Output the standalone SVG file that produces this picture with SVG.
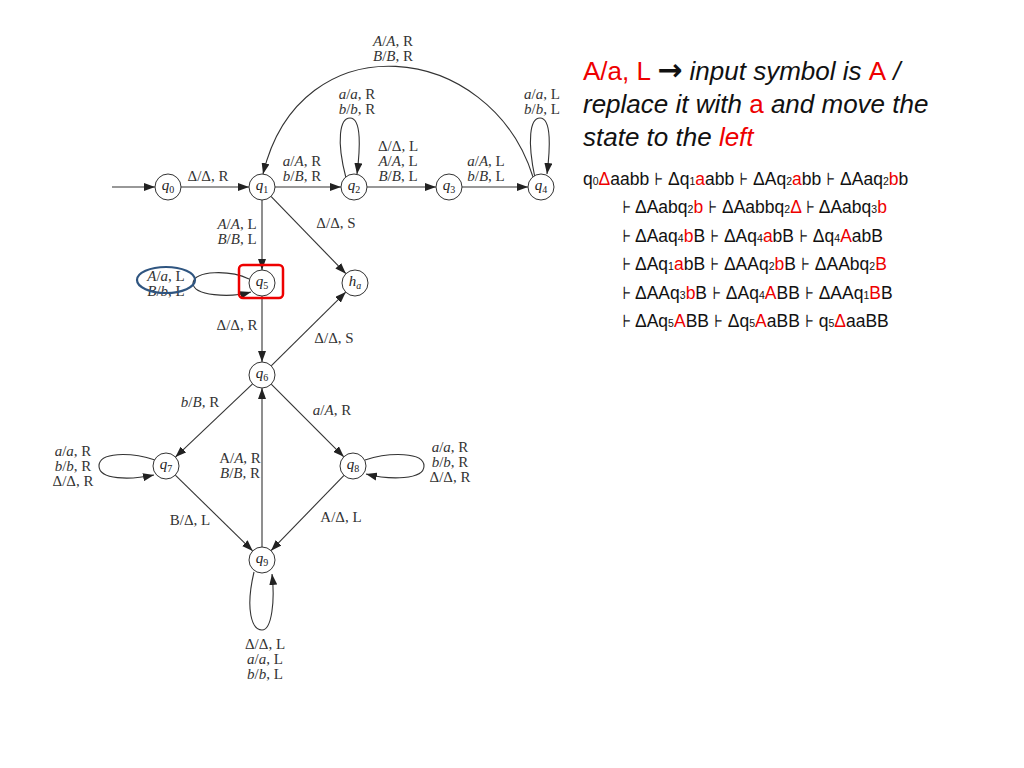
<svg xmlns="http://www.w3.org/2000/svg" width="1024" height="768" viewBox="0 0 1024 768">
<style>
.n circle{fill:#fff;stroke:#333;stroke-width:1}
.nl{font-family:"Liberation Serif",serif;font-size:15px;font-style:italic;fill:#222;text-anchor:middle}
.sb{font-size:10px;font-style:normal}
.e{fill:none;stroke:#333;stroke-width:1.1}
.lb{font-family:"Liberation Serif",serif;font-size:15px;fill:#333;text-anchor:middle}
.i{font-style:italic}
.t{font-family:"Liberation Sans","DejaVu Sans",sans-serif;font-size:26px;fill:#111}
.d{font-family:"Liberation Sans","DejaVu Sans",sans-serif;font-size:17.5px;fill:#111}
.r{fill:#e00}
.s{font-size:10.5px}
</style>
<defs>
<marker id="ah" markerWidth="11" markerHeight="8" refX="11" refY="4" orient="auto" markerUnits="userSpaceOnUse">
<path d="M0,0 L11,4 L0,8 z" fill="#222"/>
</marker>
</defs>
<rect width="1024" height="768" fill="#fff"/>

<g id="connectors">
<line class="e" x1="112" y1="187" x2="155" y2="187" marker-end="url(#ah)"/>
<line class="e" x1="181" y1="187" x2="249" y2="187" marker-end="url(#ah)"/>
<line class="e" x1="275" y1="187" x2="341" y2="187" marker-end="url(#ah)"/>
<line class="e" x1="367" y1="187" x2="436" y2="187" marker-end="url(#ah)"/>
<line class="e" x1="462" y1="187" x2="528" y2="187" marker-end="url(#ah)"/>
<path class="e" d="M533,177 C490,40 300,20 263,174" marker-end="url(#ah)"/>
<path class="e" d="M346,178 C336,140 340,118 350,118 C362,118 360,150 357,174" marker-end="url(#ah)"/>
<path class="e" d="M535,178 C527,140 530,118 540,118 C552,118 550,150 547,174" marker-end="url(#ah)"/>
<line class="e" x1="262" y1="200" x2="262" y2="270" marker-end="url(#ah)"/>
<line class="e" x1="271" y1="196.3" x2="345.9" y2="273.7" marker-end="url(#ah)"/>
<path class="e" d="M249,279 C230,270 195,270 193,283 C193,296 230,298 251,292" marker-end="url(#ah)"/>
<line class="e" x1="262" y1="296" x2="262" y2="362" marker-end="url(#ah)"/>
<line class="e" x1="271.2" y1="365.9" x2="345.8" y2="292.1" marker-end="url(#ah)"/>
<line class="e" x1="252.6" y1="383.9" x2="175.4" y2="457.1" marker-end="url(#ah)"/>
<line class="e" x1="271.2" y1="384.2" x2="343.8" y2="456.8" marker-end="url(#ah)"/>
<path class="e" d="M155,460 C130,452 99,452 99,466 C99,480 130,480 154,475" marker-end="url(#ah)"/>
<path class="e" d="M365,460 C390,452 424,452 424,466 C424,480 390,480 366,474" marker-end="url(#ah)"/>
<line class="e" x1="175.3" y1="475.1" x2="252.7" y2="550.9" marker-end="url(#ah)"/>
<line class="e" x1="344" y1="475.3" x2="271" y2="550.7" marker-end="url(#ah)"/>
<line class="e" x1="262" y1="547" x2="262" y2="388" marker-end="url(#ah)"/>
<path class="e" d="M254,572 C245,610 252,630 262,630 C272,630 275,600 272,574" marker-end="url(#ah)"/>
</g>

<g id="edge-labels">
<text class="lb" x="393" y="46"><tspan class="i">A</tspan>/<tspan class="i">A</tspan>, R</text>
<text class="lb" x="393" y="61"><tspan class="i">B</tspan>/<tspan class="i">B</tspan>, R</text>
<text class="lb" x="357" y="99"><tspan class="i">a</tspan>/<tspan class="i">a</tspan>, R</text>
<text class="lb" x="357" y="114"><tspan class="i">b</tspan>/<tspan class="i">b</tspan>, R</text>
<text class="lb" x="542" y="99"><tspan class="i">a</tspan>/<tspan class="i">a</tspan>, L</text>
<text class="lb" x="542" y="114"><tspan class="i">b</tspan>/<tspan class="i">b</tspan>, L</text>
<text class="lb" x="398" y="151">Δ/Δ, L</text>
<text class="lb" x="398" y="166"><tspan class="i">A</tspan>/<tspan class="i">A</tspan>, L</text>
<text class="lb" x="398" y="181"><tspan class="i">B</tspan>/<tspan class="i">B</tspan>, L</text>
<text class="lb" x="302" y="166"><tspan class="i">a</tspan>/<tspan class="i">A</tspan>, R</text>
<text class="lb" x="302" y="181"><tspan class="i">b</tspan>/<tspan class="i">B</tspan>, R</text>
<text class="lb" x="486" y="166"><tspan class="i">a</tspan>/<tspan class="i">A</tspan>, L</text>
<text class="lb" x="486" y="181"><tspan class="i">b</tspan>/<tspan class="i">B</tspan>, L</text>
<text class="lb" x="208" y="181">Δ/Δ, R</text>
<text class="lb" x="237" y="229"><tspan class="i">A</tspan>/<tspan class="i">A</tspan>, L</text>
<text class="lb" x="237" y="244"><tspan class="i">B</tspan>/<tspan class="i">B</tspan>, L</text>
<text class="lb" x="336" y="228">Δ/Δ, S</text>
<text class="lb" x="166" y="281"><tspan class="i">A</tspan>/<tspan class="i">a</tspan>, L</text>
<text class="lb" x="166" y="296"><tspan class="i">B</tspan>/<tspan class="i">b</tspan>, L</text>
<text class="lb" x="237" y="330">Δ/Δ, R</text>
<text class="lb" x="334" y="343">Δ/Δ, S</text>
<text class="lb" x="200" y="407"><tspan class="i">b</tspan>/<tspan class="i">B</tspan>, R</text>
<text class="lb" x="332" y="415"><tspan class="i">a</tspan>/<tspan class="i">A</tspan>, R</text>
<text class="lb" x="73" y="456"><tspan class="i">a</tspan>/<tspan class="i">a</tspan>, R</text>
<text class="lb" x="73" y="471"><tspan class="i">b</tspan>/<tspan class="i">b</tspan>, R</text>
<text class="lb" x="73" y="486">Δ/Δ, R</text>
<text class="lb" x="450" y="452"><tspan class="i">a</tspan>/<tspan class="i">a</tspan>, R</text>
<text class="lb" x="450" y="467"><tspan class="i">b</tspan>/<tspan class="i">b</tspan>, R</text>
<text class="lb" x="450" y="482">Δ/Δ, R</text>
<text class="lb" x="240" y="463">A/<tspan class="i">A</tspan>, R</text>
<text class="lb" x="240" y="478"><tspan class="i">B</tspan>/<tspan class="i">B</tspan>, R</text>
<text class="lb" x="190" y="525">B/Δ, L</text>
<text class="lb" x="341" y="522">A/Δ, L</text>
<text class="lb" x="265" y="649">Δ/Δ, L</text>
<text class="lb" x="265" y="664"><tspan class="i">a</tspan>/<tspan class="i">a</tspan>, L</text>
<text class="lb" x="265" y="679"><tspan class="i">b</tspan>/<tspan class="i">b</tspan>, L</text>
</g>

<g id="q0" class="n"><circle cx="168" cy="187" r="13"/><text class="nl" x="168" y="190">q<tspan class="sb" dy="3">0</tspan></text></g>
<g id="q1" class="n"><circle cx="262" cy="187" r="13"/><text class="nl" x="262" y="190">q<tspan class="sb" dy="3">1</tspan></text></g>
<g id="q2" class="n"><circle cx="354" cy="187" r="13"/><text class="nl" x="354" y="190">q<tspan class="sb" dy="3">2</tspan></text></g>
<g id="q3" class="n"><circle cx="449" cy="187" r="13"/><text class="nl" x="449" y="190">q<tspan class="sb" dy="3">3</tspan></text></g>
<g id="q4" class="n"><circle cx="541" cy="187" r="13"/><text class="nl" x="541" y="190">q<tspan class="sb" dy="3">4</tspan></text></g>
<g id="q5" class="n"><circle cx="262" cy="283" r="13"/><text class="nl" x="262" y="286">q<tspan class="sb" dy="3">5</tspan></text></g>
<g id="ha" class="n"><circle cx="355" cy="283" r="13"/><text class="nl" x="355" y="286">h<tspan class="sb i" dy="3">a</tspan></text></g>
<g id="q6" class="n"><circle cx="262" cy="375" r="13"/><text class="nl" x="262" y="378">q<tspan class="sb" dy="3">6</tspan></text></g>
<g id="q7" class="n"><circle cx="166" cy="466" r="13"/><text class="nl" x="166" y="469">q<tspan class="sb" dy="3">7</tspan></text></g>
<g id="q8" class="n"><circle cx="353" cy="466" r="13"/><text class="nl" x="353" y="469">q<tspan class="sb" dy="3">8</tspan></text></g>
<g id="q9" class="n"><circle cx="262" cy="560" r="13"/><text class="nl" x="262" y="563">q<tspan class="sb" dy="3">9</tspan></text></g>

<g id="highlights">
<rect x="239" y="265" width="44" height="33" rx="4" fill="none" stroke="#e00" stroke-width="2.5"/>
<ellipse cx="166" cy="280" rx="29" ry="13" fill="none" stroke="#2f5580" stroke-width="2.2"/>
</g>

<g id="explanation">
<text class="t" x="583" y="80"><tspan class="r">A/a, L </tspan><tspan font-family="DejaVu Sans" font-weight="bold" font-size="30">→</tspan><tspan font-style="italic"> input symbol is </tspan><tspan class="r">A</tspan><tspan font-style="italic"> /</tspan></text>
<text class="t" x="583" y="113"><tspan font-style="italic">replace it with </tspan><tspan class="r">a</tspan><tspan font-style="italic"> and move the</tspan></text>
<text class="t" x="583" y="146"><tspan font-style="italic">state to the </tspan><tspan class="r" font-style="italic">left</tspan></text>
</g>

<g id="derivation">
<text class="d" x="583" y="185">q<tspan class="s">0</tspan><tspan class="r">Δ</tspan>aabb ⊦ Δq<tspan class="s">1</tspan><tspan class="r">a</tspan>abb ⊦ ΔAq<tspan class="s">2</tspan><tspan class="r">a</tspan>bb ⊦ ΔAaq<tspan class="s">2</tspan><tspan class="r">b</tspan>b</text>
<text class="d" x="622" y="213">⊦ ΔAabq<tspan class="s">2</tspan><tspan class="r">b</tspan> ⊦ ΔAabbq<tspan class="s">2</tspan><tspan class="r">Δ</tspan> ⊦ ΔAabq<tspan class="s">3</tspan><tspan class="r">b</tspan></text>
<text class="d" x="622" y="242">⊦ ΔAaq<tspan class="s">4</tspan><tspan class="r">b</tspan>B ⊦ ΔAq<tspan class="s">4</tspan><tspan class="r">a</tspan>bB ⊦ Δq<tspan class="s">4</tspan><tspan class="r">A</tspan>abB</text>
<text class="d" x="622" y="270">⊦ ΔAq<tspan class="s">1</tspan><tspan class="r">a</tspan>bB ⊦ ΔAAq<tspan class="s">2</tspan><tspan class="r">b</tspan>B ⊦ ΔAAbq<tspan class="s">2</tspan><tspan class="r">B</tspan></text>
<text class="d" x="622" y="299">⊦ ΔAAq<tspan class="s">3</tspan><tspan class="r">b</tspan>B ⊦ ΔAq<tspan class="s">4</tspan><tspan class="r">A</tspan>BB ⊦ ΔAAq<tspan class="s">1</tspan><tspan class="r">B</tspan>B</text>
<text class="d" x="622" y="327">⊦ ΔAq<tspan class="s">5</tspan><tspan class="r">A</tspan>BB ⊦ Δq<tspan class="s">5</tspan><tspan class="r">A</tspan>aBB ⊦ q<tspan class="s">5</tspan><tspan class="r">Δ</tspan>aaBB</text>
</g>
</svg>
